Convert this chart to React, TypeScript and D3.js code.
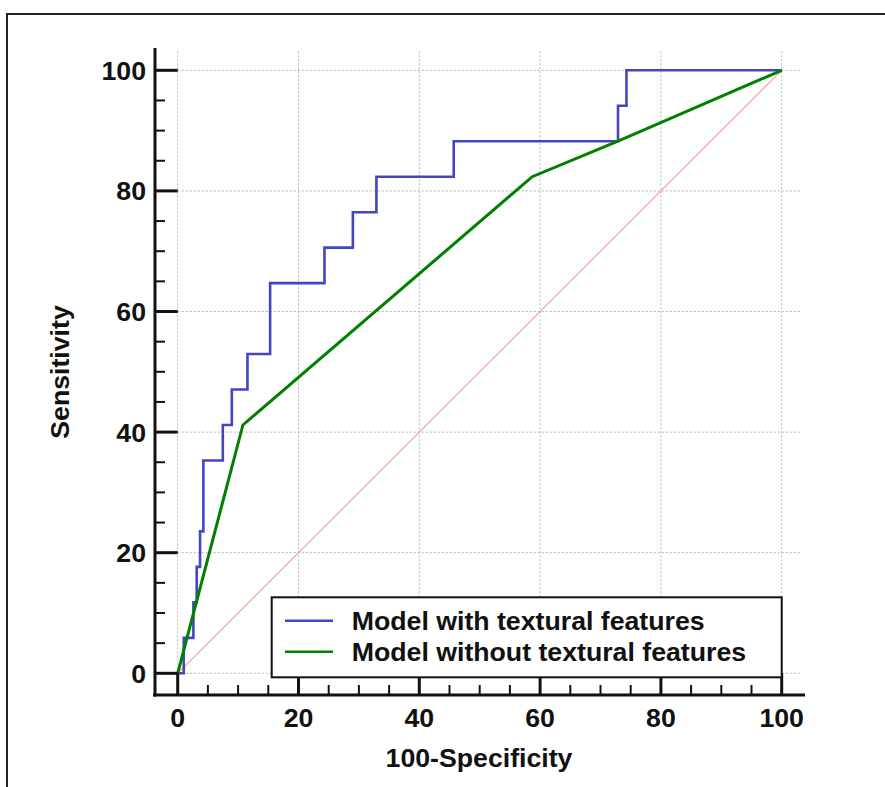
import { useEffect, useRef } from "react";
import * as d3 from "d3";

// ROC points (100-specificity, sensitivity)
const withFpr = [0, 1.0, 2.6, 3.15, 3.7, 4.25, 7.47, 8.96, 11.55, 15.3, 24.3, 29.0, 32.9, 45.7, 72.9, 74.3, 100];
const withTpr = [0, 5.88, 11.76, 17.65, 23.53, 35.29, 41.18, 47.06, 52.94, 64.71, 70.59, 76.47, 82.35, 88.24, 94.12, 100, 100];
const withoutFpr = [0, 10.8, 58.7, 72.9, 100];
const withoutTpr = [0, 41.18, 82.35, 88.24, 100];
const majorTicks = [0, 20, 40, 60, 80, 100];
const minorTicks = [5, 10, 15, 25, 30, 35, 45, 50, 55, 65, 70, 75, 85, 90, 95];
const legendLabels = ["Model with textural features", "Model without textural features"];
const seriesColors = ["#4444c4", "#008000"];

const FONT = "'Liberation Sans', Arial, sans-serif";
const FS = 26.7;

function renderChart(el: SVGSVGElement) {
  const svg = d3.select(el);
  svg.selectAll("*").remove();

  const x = d3.scaleLinear().domain([0, 100]).range([177.7, 781.7]);
  const y = d3.scaleLinear().domain([0, 100]).range([673.3, 70.3]);
  const axisX = 155,
    axisY = 695;

  svg.append("rect").attr("width", 885).attr("height", 787).attr("fill", "#fff");
  svg
    .append("rect")
    .attr("x", 7)
    .attr("y", 14)
    .attr("width", 920)
    .attr("height", 820)
    .attr("fill", "none")
    .attr("stroke", "#222")
    .attr("stroke-width", 2);

  // grid
  const g = svg.append("g").attr("stroke", "#b4b4b4").attr("stroke-width", 1).attr("stroke-dasharray", "2,2");
  majorTicks.forEach((t) => {
    g.append("line").attr("x1", x(t)).attr("x2", x(t)).attr("y1", y(0)).attr("y2", y(103.1));
    g.append("line").attr("x1", x(0)).attr("x2", x(103.3)).attr("y1", y(t)).attr("y2", y(t));
  });

  // diagonal
  svg
    .append("line")
    .attr("x1", x(0))
    .attr("y1", y(0))
    .attr("x2", x(100))
    .attr("y2", y(100))
    .attr("stroke", "#f2a4a4")
    .attr("stroke-width", 1.2);

  // curves
  const withData = withFpr.map((f, i) => [f, withTpr[i]] as [number, number]);
  const withoutData = withoutFpr.map((f, i) => [f, withoutTpr[i]] as [number, number]);
  const step = d3
    .line<[number, number]>()
    .x((d) => x(d[0]))
    .y((d) => y(d[1]))
    .curve(d3.curveStepAfter);
  const straight = d3
    .line<[number, number]>()
    .x((d) => x(d[0]))
    .y((d) => y(d[1]));
  svg
    .append("path")
    .datum(withData)
    .attr("d", step)
    .attr("fill", "none")
    .attr("stroke", seriesColors[0])
    .attr("stroke-width", 2.6);
  svg
    .append("path")
    .datum(withoutData)
    .attr("d", straight)
    .attr("fill", "none")
    .attr("stroke", seriesColors[1])
    .attr("stroke-width", 3);

  // axes
  const ax = svg.append("g").attr("stroke", "#111");
  ax.append("line").attr("x1", axisX).attr("x2", axisX).attr("y1", 48).attr("y2", axisY + 1.5).attr("stroke-width", 3);
  ax.append("line").attr("x1", 153).attr("x2", 805).attr("y1", axisY).attr("y2", axisY).attr("stroke-width", 3);
  majorTicks.forEach((t) => {
    ax.append("line").attr("x1", axisX).attr("x2", x(0)).attr("y1", y(t)).attr("y2", y(t)).attr("stroke-width", 3);
    ax.append("line").attr("x1", x(t)).attr("x2", x(t)).attr("y1", axisY).attr("y2", y(0)).attr("stroke-width", 3);
  });
  minorTicks.forEach((t) => {
    ax.append("line").attr("x1", axisX).attr("x2", axisX + 10).attr("y1", y(t)).attr("y2", y(t)).attr("stroke-width", 2);
    ax.append("line").attr("x1", x(t)).attr("x2", x(t)).attr("y1", axisY).attr("y2", axisY - 10).attr("stroke-width", 2);
  });

  const label = (tx: number, ty: number, text: string, anchor: string, extra = "") =>
    svg
      .append("text")
      .attr("transform", `translate(${tx},${ty})${extra}`)
      .attr("text-anchor", anchor)
      .attr("font-family", FONT)
      .attr("font-weight", "bold")
      .attr("font-size", FS)
      .attr("fill", "#111")
      .text(text);

  majorTicks.forEach((t) => {
    label(146, y(t) + 9.5, String(t), "end");
    label(x(t), 727, String(t), "middle");
  });
  label(479, 767, "100-Specificity", "middle");
  label(69, 372, "Sensitivity", "middle", " rotate(-90)");

  // legend
  svg
    .append("rect")
    .attr("x", 271.7)
    .attr("y", 597.3)
    .attr("width", 510)
    .attr("height", 80)
    .attr("fill", "#fff")
    .attr("stroke", "#111")
    .attr("stroke-width", 2);
  legendLabels.forEach((l, i) => {
    const ly = 620.7 + i * 31;
    svg
      .append("line")
      .attr("x1", 285)
      .attr("x2", 333)
      .attr("y1", ly)
      .attr("y2", ly)
      .attr("stroke", seriesColors[i])
      .attr("stroke-width", 2.5);
    label(351.7, ly + 9.5, l, "start");
  });
}

export default function App() {
  const ref = useRef<SVGSVGElement>(null);
  useEffect(() => {
    if (ref.current) renderChart(ref.current);
  }, []);
  return (
    <svg
      ref={ref}
      width={885}
      height={787}
      style={{ position: "absolute", left: 0, top: 0, display: "block" }}
    />
  );
}
